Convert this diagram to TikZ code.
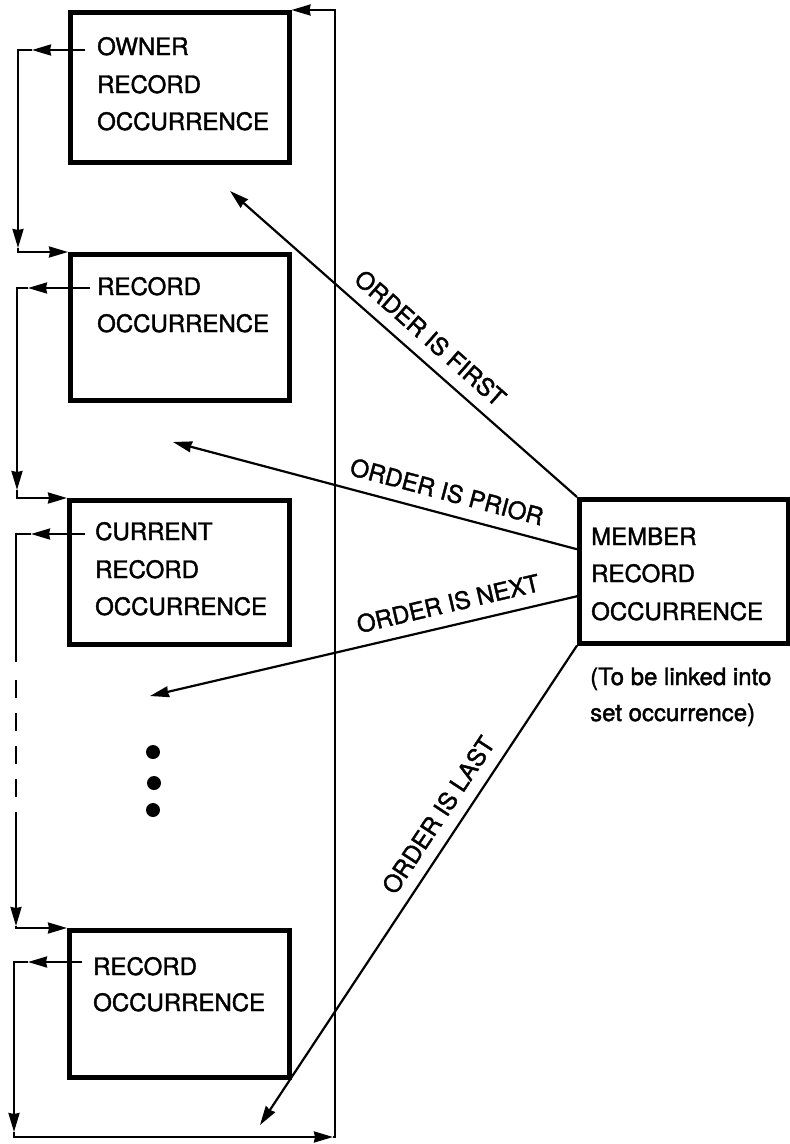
\documentclass[tikz,border=0pt]{standalone}
\usepackage{fontspec}
\setmainfont{TeX Gyre Heros}
\newfontfamily\lblfont{TeX Gyre Heros}[FakeBold=1.6]
\usetikzlibrary{arrows.meta}
\begin{document}
\begin{tikzpicture}[x=1pt,y=-1pt,
  box/.style={draw, line width=4.5pt, rectangle, inner sep=0pt, anchor=north west},
  txt/.style={inner sep=0pt, anchor=base west, font=\lblfont\fontsize{24}{30}\selectfont},
  ln/.style={line width=2.2pt, line join=miter},
  arr/.style={ln, -{Stealth[length=19pt,width=11pt,inset=1pt]}},
  lab/.style={sloped, above=12pt, inner sep=0pt, font=\lblfont\fontsize{24}{30}\selectfont},
  dotnode/.style={circle, fill, inner sep=0pt, minimum size=14pt}
]
\useasboundingbox (0,0) rectangle (790,1144);

% boxes
\node[box, minimum width=219pt, minimum height=150pt] (own) at (68,10) {};
\node[box, minimum width=219pt, minimum height=146pt] (rec2) at (68,252) {};
\node[box, minimum width=220pt, minimum height=144pt] (cur) at (67,498) {};
\node[box, minimum width=220pt, minimum height=147pt] (rec4) at (67,928) {};
\node[box, minimum width=209pt, minimum height=144pt] (mem) at (577,497) {};

% texts
\node[txt] (own1) at (97,55) {OWNER};
\node[txt] (own2) at (97,93) {RECORD};
\node[txt] (own3) at (97,130) {OCCURRENCE};
\node[txt] (r2a) at (97,295) {RECORD};
\node[txt] (r2b) at (97,332) {OCCURRENCE};
\node[txt] (cu1) at (95,540) {CURRENT};
\node[txt] (cu2) at (95,578) {RECORD};
\node[txt] (cu3) at (95,615) {OCCURRENCE};
\node[txt] (r4a) at (93,975) {RECORD};
\node[txt] (r4b) at (93,1011) {OCCURRENCE};
\node[txt] (m1) at (591,545) {MEMBER};
\node[txt] (m2) at (591,582) {RECORD};
\node[txt] (m3) at (591,620) {OCCURRENCE};
\node[txt] (n1) at (590,685) {(To be linked into};
\node[txt] (n2) at (590,721) {set occurrence)};

% dots
\node[dotnode] (d1) at (153,752) {};
\node[dotnode] (d2) at (154,783) {};
\node[dotnode] (d3) at (153,810) {};

% chain: owner -> rec2
\coordinate (o0) at (85,50);
\coordinate (o1) at (18,50);
\coordinate (o2) at (18,252);
\draw[arr] (o0) -- ([xshift=14pt]o1);
\draw[arr] ([xshift=14pt]o1) -- (o1) -- ([yshift=4pt]o2);
\draw[arr] ([yshift=4pt]o2) -- (o2) -- (rec2.north west);

% chain: rec2 -> cur
\coordinate (p0) at (90,288);
\coordinate (p1) at (17,288);
\coordinate (p2) at (17,498);
\draw[arr] (p0) -- ([xshift=11pt]p1);
\draw[arr] ([xshift=11pt]p1) -- (p1) -- ([yshift=8pt]p2);
\draw[arr] ([yshift=8pt]p2) -- (p2) -- (cur.north west);

% chain: cur -> rec4 (with dashed part)
\coordinate (c0) at (85,534);
\coordinate (c1) at (16,534);
\coordinate (c2) at (16,662);
\coordinate (c3) at (16,680);
\coordinate (c4) at (16,817);
\coordinate (c5) at (16,928);
\draw[arr] (c0) -- ([xshift=15pt]c1);
\draw[ln] ([xshift=15pt]c1) -- (c1) -- (c2);
\draw[ln, dash pattern=on 18pt off 15pt] (c3) -- (c4);
\draw[arr] (c4) -- ([yshift=2pt]c5);
\draw[arr] ([yshift=2pt]c5) -- (c5) -- (rec4.north west);

% chain: rec4 -> back to owner
\coordinate (e0) at (82,962);
\coordinate (e1) at (14,962);
\coordinate (e2) at (14,1137);
\coordinate (e3) at (335,1137);
\coordinate (e4) at (335,10);
\draw[arr] (e0) -- ([xshift=14pt]e1);
\draw[arr] ([xshift=14pt]e1) -- (e1) -- ([yshift=5pt]e2);
\draw[arr] ([yshift=5pt]e2) -- (e2) -- ([xshift=-2pt]e3);
\draw[arr] ([xshift=-2pt]e3) -- (e3) -- (e4) -- (own.north east);

% insertion arrows
\coordinate (tF) at (230,191);
\coordinate (tP) at (173,442);
\coordinate (tN) at (150,696);
\coordinate (tL) at (260,1125);
\draw[arr] (mem.north west) -- node[lab, pos=0.465] {ORDER IS FIRST} (tF);
\draw[arr] ([yshift=22pt]mem.west) -- node[lab, pos=0.336] {ORDER IS PRIOR} (tP);
\draw[arr] ([yshift=-25pt]mem.west) -- node[lab, pos=0.29] {ORDER IS NEXT} (tN);
\draw[arr] (mem.south west) -- node[lab, pos=0.379] {ORDER IS LAST} (tL);
\end{tikzpicture}
\end{document}
